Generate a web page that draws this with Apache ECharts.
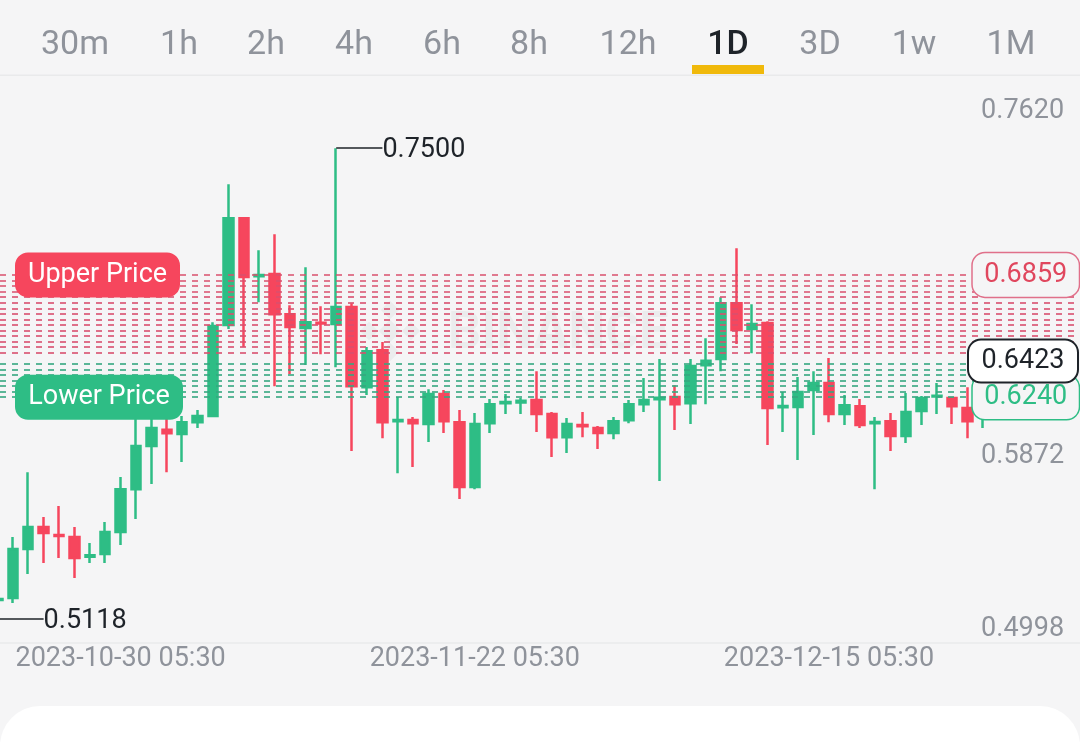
<!DOCTYPE html>
<html>
<head>
<meta charset="utf-8">
<title>1D chart</title>
<script src="https://cdn.jsdelivr.net/npm/echarts@6/dist/echarts.min.js"></script>
<style>
  html, body { margin: 0; padding: 0; background: #f5f5f6; }
  #chart { width: 1080px; height: 742px; }
</style>
</head>
<body>
<div id="chart"></div>
<script>
const dates = [
  "2023-10-21","2023-10-22","2023-10-23","2023-10-24","2023-10-25","2023-10-26","2023-10-27","2023-10-28","2023-10-29","2023-10-30","2023-10-31",
  "2023-11-01","2023-11-02","2023-11-03","2023-11-04","2023-11-05","2023-11-06","2023-11-07","2023-11-08","2023-11-09","2023-11-10",
  "2023-11-11","2023-11-12","2023-11-13","2023-11-14","2023-11-15","2023-11-16","2023-11-17","2023-11-18","2023-11-19","2023-11-20",
  "2023-11-21","2023-11-22","2023-11-23","2023-11-24","2023-11-25","2023-11-26","2023-11-27","2023-11-28","2023-11-29","2023-11-30",
  "2023-12-01","2023-12-02","2023-12-03","2023-12-04","2023-12-05","2023-12-06","2023-12-07","2023-12-08","2023-12-09","2023-12-10",
  "2023-12-11","2023-12-12","2023-12-13","2023-12-14","2023-12-15","2023-12-16","2023-12-17","2023-12-18","2023-12-19","2023-12-20",
  "2023-12-21","2023-12-22","2023-12-23","2023-12-24","2023-12-25","2023-12-26","2023-12-27","2023-12-28","2023-12-29","2023-12-30","2023-12-31"
];
const labelledDates = ["2023-10-30", "2023-11-22", "2023-12-15"];

const opens = [
  .5189,.5214,.5224,.5472,.5583,.5543,.5533,.5433,.5447,.5558,.5775,.5993,.6075,.6054,.6114,.6145,
  .6605,.7146,.6852,.6863,.6660,.6590,.6617,.6610,.6696,.6291,.6478,.6118,.6125,.6104,.6256,.6114,
  .5786,.6109,.6209,.6214,.6226,.6155,.6038,.6100,.6084,.6059,.6124,.6205,.6230,.6241,.6210,.6402,
  .6433,.6716,.6585,.6615,.6189,.6190,.6276,.6312,.6155,.6195,.6108,.6119,.6044,.6170,.6244,.6236,
  .6185,.6185
];
const closes = [
  .5265,.5219,.5472,.5583,.5553,.5538,.5427,.5441,.5558,.5775,.5993,.6084,.6058,.6114,.6145,.6600,
  .7146,.6848,.6859,.6660,.6595,.6620,.6613,.6696,.6296,.6473,.6114,.6125,.6108,.6256,.6119,.5786,
  .6104,.6205,.6216,.6222,.6155,.6038,.6104,.6093,.6059,.6119,.6205,.6226,.6237,.6205,.6398,.6424,
  .6716,.6580,.6610,.6185,.6196,.6266,.6312,.6155,.6200,.6099,.6115,.6044,.6165,.6236,.6248,.6195,
  .6119,.6423
];
const lows = [
  .5118,.5194,.5199,.5346,.5401,.5427,.5325,.5401,.5401,.5492,.5624,.5801,.5861,.5912,.6084,.6140,
  .6585,.6494,.6721,.6296,.6357,.6403,.6458,.6392,.5968,.6251,.6033,.5856,.5887,.6013,.6059,.5725,
  .5775,.6059,.6155,.6155,.6064,.5937,.5958,.6038,.5978,.6028,.6109,.6165,.5816,.6074,.6104,.6205,
  .6372,.6509,.6463,.5998,.6064,.5922,.6049,.6114,.6099,.6084,.5775,.5968,.6008,.6099,.6155,.6104,
  .6033,.6084
];
const highs = [
  .5315,.5265,.5533,.5861,.5634,.5690,.5583,.5502,.5609,.5836,.6185,.6145,.6135,.6145,.6175,.6620,
  .7318,.7151,.6984,.7065,.6706,.6898,.6701,.7500,.6716,.6494,.6519,.6241,.6140,.6281,.6276,.6175,
  .6160,.6231,.6256,.6236,.6372,.6165,.6135,.6165,.6094,.6140,.6226,.6337,.6433,.6301,.6433,.6539,
  .6746,.6994,.6711,.6625,.6266,.6342,.6372,.6438,.6251,.6231,.6140,.6160,.6261,.6246,.6312,.6241,
  .6291,.6438
];

const sellGridPrices = [.6859,.6831,.6803,.6775,.6747,.6719,.6690,.6662,.6634,.6606,.6578,.6550,.6522,.6493,.6465];
const buyGridPrices = [.6409,.6381,.6353,.6324,.6296,.6268,.6240];
const axisPrices = [.4998, .5872, .7620];
const upperPrice = .6859;
const lowerPrice = .6240;
const lastPrice = .6423;
const highestPrice = .7500;
const lowestPrice = .5118;
const tabs = ["30m","1h","2h","4h","6h","8h","12h","1D","3D","1w","1M"];
const activeTab = "1D";

const GREEN = "#2ebd85";
const RED = "#f6465d";
const GREY = "#8f939b";
const INK = "#1e2329";
const FONT = "Roboto";

const tabCenters = [75, 179, 266, 354, 442, 529, 628, 728, 820, 914, 1011];

const gridMarks = (prices, color) => prices.map(p => ({
  yAxis: p,
  lineStyle: { color: color, width: 1.6, type: [6, 6], dashOffset: 10.3, opacity: 1 },
  label: { show: false }
}));

// short leader from the extreme candle, with the price at its end
const extremeMark = (price, from, to) => [
  {
    coord: [dates[from], price],
    lineStyle: { color: INK, width: 1.5, type: "solid", opacity: 1 },
    label: {
      show: true, position: "end", formatter: price.toFixed(4),
      color: INK, fontFamily: FONT, fontSize: 27, distance: 0, offset: [0, 2]
    }
  },
  { coord: [dates[to], price] }
];

const highIndex = highs.indexOf(highestPrice);
const lowIndex = lows.indexOf(lowestPrice);

const chart = echarts.init(document.getElementById("chart"), null, { renderer: "canvas" });

const option = {
  animation: false,
  backgroundColor: "#f5f5f6",
  grid: { left: -25.7, width: 1108.8, top: 124.5, bottom: 99.3, outerBoundsMode: "none" },
  xAxis: {
    type: "category",
    data: dates,
    axisLine: { lineStyle: { color: "#e9eaeb", width: 1.5 } },
    axisTick: { show: false },
    splitLine: { show: false },
    axisLabel: {
      interval: (i, v) => labelledDates.includes(v),
      formatter: v => v + " 05:30",
      color: GREY, fontFamily: FONT, fontSize: 27, margin: 0, lineHeight: 33,
      verticalAlign: "top", hideOverlap: false
    }
  },
  yAxis: {
    type: "value",
    position: "right",
    min: .4998,
    max: .7620,
    axisLine: { show: false },
    axisTick: { show: false },
    splitLine: { show: false },
    axisLabel: {
      inside: true,
      margin: 19,
      customValues: axisPrices,
      formatter: v => v.toFixed(4),
      color: GREY, fontFamily: FONT, fontSize: 27,
      verticalAlign: "bottom", align: "right"
    }
  },
  series: [{
    type: "candlestick",
    barWidth: 10,
    data: opens.map((o, i) => [o, closes[i], lows[i], highs[i]]),
    itemStyle: { color: GREEN, color0: RED, borderColor: GREEN, borderColor0: RED, borderWidth: 2.5 },
    markLine: {
      silent: true,
      symbol: "none",
      animation: false,
      precision: 4,
      z: 5,
      data: [
        ...gridMarks(sellGridPrices, "#d9506e"),
        ...gridMarks(buyGridPrices, "#36a77f"),
        extremeMark(highestPrice, highIndex, highIndex + 3),
        extremeMark(lowestPrice, lowIndex, lowIndex + 4)
      ]
    }
  }]
};
chart.setOption(option);

const priceY = p => chart.convertToPixel({ yAxisIndex: 0 }, p);

const badge = (x, y, w, h, fill, stroke, strokeWidth, text, color, z) => ({
  type: "group",
  z: z,
  children: [
    { type: "rect", z: z, shape: { x: x, y: y - h / 2, width: w, height: h, r: 13 }, style: { fill: fill, stroke: stroke, lineWidth: strokeWidth } },
    { type: "text", z: z + 1, x: x + w / 2, y: y, style: { text: text, fill: color, font: "27px " + FONT, align: "center", verticalAlign: "middle" } }
  ]
});

const tabItems = tabs.map((t, i) => ({
  type: "text", z: 20, x: tabCenters[i], y: 45,
  style: { text: t, fill: t === activeTab ? INK : GREY, font: (t === activeTab ? "500 " : "") + "34px " + FONT, align: "center", verticalAlign: "middle" }
}));

// the faint mark sits behind the grid lines and candles
const logoPart = (cx, cy, size) => ({
  type: "rect", z: -1, silent: true, x: cx, y: cy, rotation: Math.PI / 4,
  shape: { x: -size / 2, y: -size / 2, width: size, height: size },
  style: { fill: "#ebeced" }
});

chart.setOption({
  graphic: [
    logoPart(390, 331, 16), logoPart(390, 310, 13), logoPart(390, 352, 13), logoPart(369, 331, 13), logoPart(411, 331, 13),
    { type: "text", z: -1, silent: true, x: 448, y: 335, style: { text: "BINANCE", fill: "#ebeced", font: "bold 52px " + FONT, align: "left", verticalAlign: "middle" } },
    ...tabItems,
    { type: "rect", z: 20, shape: { x: 0, y: 74.5, width: 1080, height: 1.5 }, style: { fill: "#e9eaeb" } },
    { type: "rect", z: 20, shape: { x: 692, y: 65, width: 72, height: 9 }, style: { fill: "#f0b90b" } },
    badge(15, priceY(upperPrice), 165, 45, RED, null, 0, "Upper Price", "#ffffff", 30),
    badge(15, priceY(lowerPrice), 168, 45, GREEN, null, 0, "Lower Price", "#ffffff", 30),
    badge(972, priceY(upperPrice), 107.5, 45, "#f5f5f6", "#e0708a", 1.5, upperPrice.toFixed(4), "#e0475e", 30),
    badge(972, priceY(lowerPrice), 107.5, 45, "#f5f5f6", GREEN, 1.5, lowerPrice.toFixed(4), GREEN, 30),
    badge(968, priceY(lastPrice), 110, 43, "#ffffff", INK, 2, lastPrice.toFixed(4), INK, 34),
    // white sheet at the bottom edge
    { type: "rect", z: 40, shape: { x: 0, y: 706, width: 1080, height: 80, r: 42 }, style: { fill: "#ffffff" } }
  ]
});

window.addEventListener("resize", chart.resize);
</script>
</body>
</html>
